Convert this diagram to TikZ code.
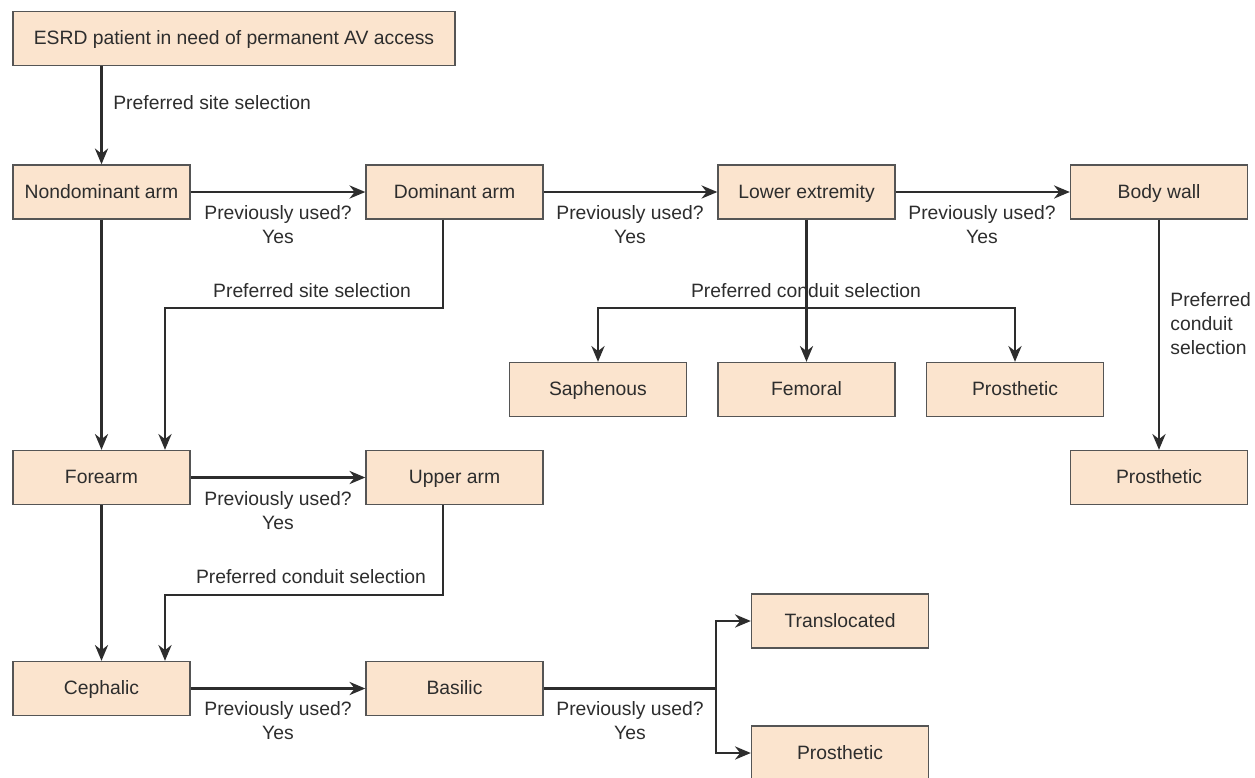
\documentclass[tikz,border=0pt]{standalone}
\usepackage{fontspec}
\setmainfont{Liberation Sans}
\usetikzlibrary{arrows.meta}

\definecolor{boxfill}{RGB}{251,228,206}
\definecolor{boxline}{RGB}{85,85,85}
\definecolor{ink}{RGB}{45,45,45}

\tikzset{
  box/.style={draw=boxline, fill=boxfill, line width=0.8pt, text=ink,
    minimum width=3.54cm, minimum height=1.08cm, inner sep=0pt,
    text height=1.6ex, text depth=0.3ex},
  arr/.style={draw=ink, line width=1.25pt, -{Stealth[length=9pt,width=7.5pt]}},
  link/.style={draw=ink, line width=1.25pt},
  lbl/.style={text=ink, inner sep=0pt, align=center}
}

\begin{document}
\begin{tikzpicture}[x=0.02cm, y=-0.02cm, font=\fontsize{11}{13.7}\selectfont]
\useasboundingbox (0,0) rectangle (1255,778);

% boxes
\node[box, minimum width=8.84cm] (esrd) at (234,38.5) {ESRD patient in need of permanent AV access};

\node[box] (nondom) at (101.5,192) {Nondominant arm};
\node[box] (dom) at (454.5,192) {Dominant arm};
\node[box] (lower) at (806.5,192) {Lower extremity};
\node[box] (body) at (1159,192) {Body wall};

\node[box] (saph) at (598,389.5) {Saphenous};
\node[box] (fem) at (806.5,389.5) {Femoral};
\node[box] (prosmid) at (1015,389.5) {Prosthetic};
\node[box] (prosright) at (1159,477.5) {Prosthetic};

\node[box] (forearm) at (101.5,477.5) {Forearm};
\node[box] (upper) at (454.5,477.5) {Upper arm};

\node[box] (ceph) at (101.5,688.5) {Cephalic};
\node[box] (basilic) at (454.5,688.5) {Basilic};

\node[box] (transl) at (840,621) {Translocated};
\node[box] (prosbot) at (840,753) {Prosthetic};

% bends
\coordinate (dsplit) at (443,308);
\coordinate (fin) at (165,308);
\coordinate (lsplit) at (806.5,308);
\coordinate (usplit) at (443,595);
\coordinate (cin) at (165,595);
\coordinate (bsplit) at (716,688.5);

% connectors
\draw[arr] (nondom |- esrd.south) -- (nondom.north);
\node[lbl, anchor=west] (l1) at (113,103) {Preferred site selection};

\draw[arr] (nondom) -- (dom);
\node[lbl] (l2) at (278,225) {Previously used?\\Yes};
\draw[arr] (dom) -- (lower);
\node[lbl] (l3) at (630,225) {Previously used?\\Yes};
\draw[arr] (lower) -- (body);
\node[lbl] (l4) at (982,225) {Previously used?\\Yes};

\draw[arr] (nondom) -- (forearm);
\draw[arr] (dom.south -| dsplit) -- (dsplit) -- (fin) -- (forearm.north -| fin);
\node[lbl] (l5) at (312,291) {Preferred site selection};

\draw[link] (lower) -- (lsplit);
\draw[arr] (lsplit) -| (saph);
\draw[arr] (lsplit) -- (fem);
\draw[arr] (lsplit) -| (prosmid);
\node[lbl] (l6) at (806,291) {Preferred conduit selection};

\draw[arr] (body) -- (prosright);
\node[lbl, align=left, anchor=north west] (l7) at (1170,292) {Preferred\\conduit\\selection};

\draw[arr] (forearm) -- (upper);
\node[lbl] (l8) at (278,511) {Previously used?\\Yes};

\draw[arr] (forearm) -- (ceph);
\draw[arr] (upper.south -| usplit) -- (usplit) -- (cin) -- (ceph.north -| cin);
\node[lbl] (l9) at (311,577) {Preferred conduit selection};

\draw[arr] (ceph) -- (basilic);
\node[lbl] (l10) at (278,721) {Previously used?\\Yes};

\draw[link] (basilic) -- (bsplit);
\draw[arr] (bsplit) |- (transl);
\draw[arr] (bsplit) |- (prosbot);
\node[lbl] (l11) at (630,721) {Previously used?\\Yes};
\end{tikzpicture}
\end{document}
